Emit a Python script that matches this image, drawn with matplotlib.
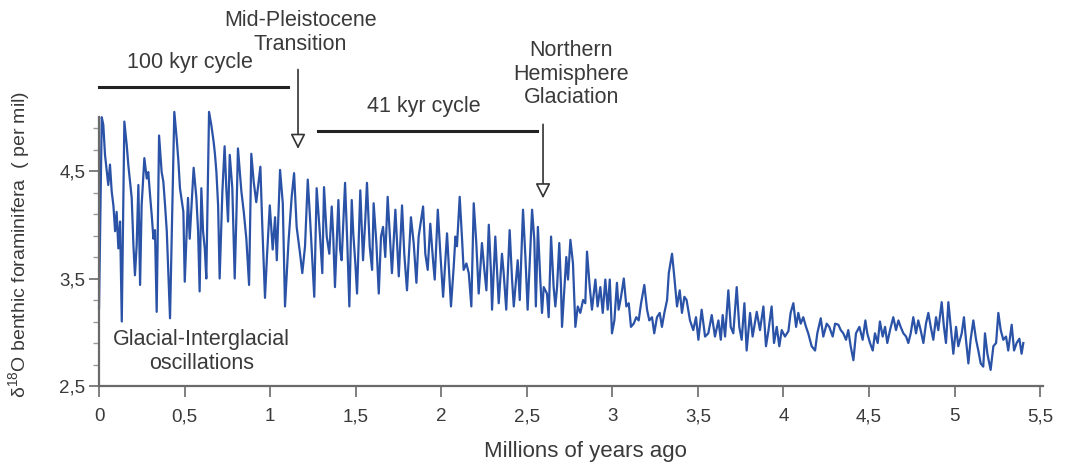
import matplotlib
matplotlib.use("Agg")
import matplotlib.pyplot as plt
from matplotlib.ticker import FixedLocator

plt.rcParams['font.family'] = ['Liberation Sans', 'DejaVu Sans']
plt.rcParams['mathtext.fontset'] = 'custom'
plt.rcParams['mathtext.rm'] = 'Liberation Sans'

# --- Benthic d18O record (age in Myr, value in per mil) ---
age = [
    0.000, 0.016, 0.025, 0.035, 0.054, 0.064, 0.074, 0.084, 0.094, 0.103,
    0.113, 0.123, 0.133, 0.148, 0.162, 0.171, 0.181, 0.191, 0.201, 0.210,
    0.220, 0.230, 0.240, 0.249, 0.265, 0.279, 0.288, 0.298, 0.308, 0.318,
    0.327, 0.337, 0.351, 0.366, 0.376, 0.386, 0.396, 0.415, 0.440, 0.454,
    0.464, 0.473, 0.493, 0.501, 0.520, 0.530, 0.553, 0.569, 0.579, 0.588,
    0.598, 0.608, 0.618, 0.627, 0.643, 0.656, 0.670, 0.678, 0.686, 0.696,
    0.705, 0.721, 0.734, 0.744, 0.754, 0.764, 0.779, 0.793, 0.803, 0.812,
    0.832, 0.846, 0.861, 0.877, 0.890, 0.904, 0.919, 0.943, 0.954, 0.970,
    0.982, 0.998, 1.015, 1.029, 1.039, 1.058, 1.074, 1.087, 1.107, 1.126,
    1.140, 1.155, 1.175, 1.188, 1.204, 1.220, 1.233, 1.243, 1.258, 1.272,
    1.292, 1.305, 1.315, 1.331, 1.346, 1.360, 1.369, 1.379, 1.399, 1.409,
    1.418, 1.438, 1.451, 1.463, 1.477, 1.486, 1.498, 1.508, 1.527, 1.543,
    1.556, 1.566, 1.582, 1.596, 1.605, 1.621, 1.635, 1.648, 1.660, 1.673,
    1.687, 1.699, 1.712, 1.732, 1.742, 1.752, 1.771, 1.784, 1.800, 1.823,
    1.839, 1.855, 1.868, 1.894, 1.907, 1.921, 1.936, 1.952, 1.962, 1.980,
    1.995, 2.011, 2.034, 2.057, 2.073, 2.083, 2.092, 2.108, 2.122, 2.131,
    2.147, 2.161, 2.176, 2.190, 2.205, 2.219, 2.238, 2.252, 2.264, 2.278,
    2.291, 2.297, 2.316, 2.336, 2.355, 2.365, 2.380, 2.400, 2.414, 2.424,
    2.447, 2.459, 2.478, 2.492, 2.505, 2.531, 2.544, 2.553, 2.565, 2.579,
    2.589, 2.599, 2.618, 2.628, 2.642, 2.657, 2.667, 2.677, 2.690, 2.700,
    2.706, 2.720, 2.731, 2.741, 2.755, 2.770, 2.784, 2.798, 2.813, 2.829,
    2.842, 2.852, 2.868, 2.881, 2.901, 2.914, 2.930, 2.944, 2.959, 2.973,
    2.985, 2.998, 3.012, 3.027, 3.037, 3.051, 3.067, 3.082, 3.096, 3.109,
    3.125, 3.140, 3.154, 3.168, 3.187, 3.203, 3.216, 3.232, 3.245, 3.261,
    3.277, 3.290, 3.304, 3.320, 3.330, 3.349, 3.362, 3.378, 3.394, 3.407,
    3.421, 3.434, 3.454, 3.473, 3.489, 3.503, 3.522, 3.542, 3.561, 3.581,
    3.600, 3.620, 3.634, 3.645, 3.659, 3.678, 3.692, 3.707, 3.727, 3.742,
    3.756, 3.772, 3.785, 3.805, 3.820, 3.844, 3.863, 3.883, 3.898, 3.912,
    3.931, 3.945, 3.961, 3.976, 3.990, 4.009, 4.029, 4.042, 4.058, 4.074,
    4.087, 4.101, 4.116, 4.132, 4.145, 4.165, 4.185, 4.198, 4.218, 4.233,
    4.253, 4.268, 4.288, 4.302, 4.321, 4.335, 4.350, 4.366, 4.379, 4.393,
    4.409, 4.424, 4.444, 4.463, 4.479, 4.490, 4.506, 4.522, 4.535, 4.551,
    4.564, 4.580, 4.594, 4.607, 4.623, 4.642, 4.658, 4.672, 4.685, 4.701,
    4.717, 4.730, 4.744, 4.759, 4.775, 4.788, 4.802, 4.818, 4.833, 4.847,
    4.861, 4.876, 4.892, 4.905, 4.925, 4.938, 4.950, 4.964, 4.978, 4.993,
    5.009, 5.022, 5.042, 5.055, 5.067, 5.081, 5.094, 5.110, 5.126, 5.139,
    5.153, 5.168, 5.178, 5.192, 5.211, 5.227, 5.243, 5.256, 5.270, 5.285,
    5.301, 5.314, 5.334, 5.348, 5.363, 5.379, 5.392, 5.402,
]
d18o = [
    3.22, 5.00, 4.93, 4.65, 4.37, 4.56, 4.31, 4.18, 3.94, 4.12,
    3.78, 4.03, 3.10, 4.96, 4.74, 4.56, 4.40, 4.25, 3.81, 3.53,
    3.81, 4.37, 3.44, 4.18, 4.62, 4.43, 4.49, 4.28, 4.09, 3.87,
    3.95, 3.19, 4.83, 4.49, 4.40, 4.18, 3.94, 3.13, 5.05, 4.80,
    4.59, 4.34, 4.12, 3.47, 4.25, 3.87, 4.53, 4.25, 3.94, 3.38,
    4.34, 3.94, 3.78, 3.50, 5.05, 4.93, 4.77, 4.65, 4.49, 4.18,
    3.50, 4.31, 4.73, 4.34, 4.03, 4.65, 4.34, 3.50, 4.09, 4.71,
    4.31, 4.12, 3.87, 3.44, 4.66, 4.40, 4.21, 4.54, 4.00, 3.32,
    3.72, 4.18, 3.77, 4.07, 3.67, 4.51, 4.20, 3.24, 3.83, 4.26,
    4.48, 3.98, 3.73, 3.55, 3.80, 4.42, 4.07, 3.77, 3.33, 4.34,
    3.89, 3.55, 4.35, 3.89, 3.73, 4.17, 3.89, 3.42, 4.23, 3.77,
    3.67, 4.39, 3.83, 3.24, 4.23, 3.92, 3.64, 3.36, 4.32, 3.67,
    4.04, 4.39, 3.80, 3.58, 4.20, 3.83, 3.36, 3.89, 3.98, 3.70,
    4.26, 3.92, 3.55, 4.14, 3.83, 3.52, 4.18, 3.73, 3.39, 4.07,
    3.83, 3.46, 3.89, 4.17, 3.73, 3.58, 4.01, 3.67, 3.49, 4.14,
    3.73, 3.33, 3.92, 3.24, 3.61, 3.89, 3.80, 4.26, 3.86, 3.58,
    3.64, 3.55, 3.24, 4.20, 3.83, 3.36, 3.83, 3.58, 3.39, 4.00,
    3.55, 3.21, 3.89, 3.27, 3.73, 3.55, 3.21, 3.95, 3.49, 3.24,
    3.67, 3.30, 4.14, 3.70, 3.21, 4.14, 3.86, 3.24, 3.98, 3.49,
    3.18, 3.42, 3.36, 3.14, 3.89, 3.42, 3.24, 3.42, 3.83, 3.42,
    3.05, 3.42, 3.70, 3.49, 3.86, 3.64, 3.05, 3.24, 3.18, 3.30,
    3.27, 3.75, 3.42, 3.21, 3.49, 3.24, 3.42, 3.18, 3.49, 3.21,
    3.49, 2.99, 3.11, 3.46, 3.21, 3.33, 3.50, 3.24, 3.27, 3.05,
    3.08, 3.14, 3.11, 3.27, 3.44, 3.21, 3.11, 3.14, 2.99, 3.14,
    3.18, 3.05, 3.18, 3.30, 3.55, 3.73, 3.52, 3.24, 3.39, 3.18,
    3.33, 3.30, 3.11, 3.02, 3.14, 2.93, 3.21, 2.96, 2.99, 3.16,
    2.96, 3.11, 2.93, 3.16, 2.96, 3.39, 3.05, 2.99, 3.42, 3.05,
    2.93, 3.27, 2.83, 3.18, 2.96, 3.19, 3.02, 3.24, 2.87, 3.01,
    3.24, 2.90, 3.05, 2.87, 3.02, 2.96, 3.01, 3.18, 3.27, 3.05,
    3.18, 3.08, 3.14, 3.05, 2.99, 2.87, 2.83, 2.99, 3.13, 2.96,
    3.08, 3.05, 2.96, 3.08, 3.07, 3.02, 2.99, 2.93, 3.02, 2.87,
    2.74, 2.99, 3.05, 2.93, 3.11, 2.99, 2.90, 2.83, 2.99, 2.90,
    3.10, 2.96, 3.05, 2.90, 3.02, 3.14, 3.02, 3.11, 3.05, 2.99,
    2.96, 2.90, 2.99, 3.14, 2.99, 3.11, 3.02, 2.90, 3.08, 3.18,
    3.05, 2.93, 3.14, 3.02, 3.28, 3.05, 2.90, 3.28, 3.05, 2.80,
    3.05, 2.87, 2.99, 3.14, 2.93, 2.71, 2.93, 3.11, 2.93, 2.83,
    2.71, 2.68, 2.99, 2.80, 2.65, 2.87, 2.90, 3.18, 3.02, 2.93,
    2.96, 2.83, 3.07, 2.83, 2.90, 2.94, 2.80, 2.90,
]

x_ticks = [0, 0.5, 1, 1.5, 2, 2.5, 3, 3.5, 4, 4.5, 5, 5.5]
x_labels = ["0", "0,5", "1", "1,5", "2", "2,5", "3", "3,5", "4", "4,5", "5", "5,5"]
y_ticks = [2.5, 3.5, 4.5]
y_labels = ["2,5", "3,5", "4,5"]
y_minor = [2.7, 2.9, 3.1, 3.3, 3.7, 3.9, 4.1, 4.3, 4.7, 4.9]

txt = "#3a3a3a"
axc = "#6a6a6a"
fs = 15.5

fig = plt.figure(figsize=(10.74, 4.62), dpi=100)
ax = fig.add_axes([0.0922, 0.1645, 0.8794, 0.5817])

ax.plot(age, d18o, color="#2a52a6", lw=1.6, clip_on=False)

ax.set_xlim(0, 5.52)
ax.set_ylim(2.5, 5.0)
ax.set_xticks(x_ticks)
ax.set_xticklabels(x_labels)
ax.set_yticks(y_ticks)
ax.set_yticklabels(y_labels)
ax.yaxis.set_minor_locator(FixedLocator(y_minor))

for s in ["top", "right"]:
    ax.spines[s].set_visible(False)
for s in ["left", "bottom"]:
    ax.spines[s].set_color(axc)
    ax.spines[s].set_linewidth(1.6)

ax.tick_params(axis="x", length=8, width=1.2, color=axc, pad=8,
               labelsize=13.5, labelcolor=txt)
ax.tick_params(axis="y", which="major", length=7, width=1.2, color=axc,
               pad=3, labelsize=13.5, labelcolor=txt)
ax.tick_params(axis="y", which="minor", length=4, width=1.0, color="#9a9a9a")

# axis titles
fig.text(585 / 1074, 0.022, "Millions of years ago", ha="center",
         va="center", fontsize=16, color=txt)
fig.text(0.018, 0.47, r"δ$^{\mathregular{18}}$O benthic foraminifera  ( per mil)",
         rotation=90, ha="center", va="center", fontsize=14, color=txt)

# --- Annotations ---
ax.plot([0, 1.105], [5.28, 5.28], color="#222222", lw=2.2, clip_on=False)
ax.text(0.53, 5.51, "100 kyr cycle", ha="center", va="center",
        fontsize=fs, color=txt)

ax.plot([1.28, 2.56], [4.87, 4.87], color="#222222", lw=2.2, clip_on=False)
ax.text(1.90, 5.10, "41 kyr cycle", ha="center", va="center",
        fontsize=fs, color=txt)

ax.text(1.175, 5.79, "Mid-Pleistocene\nTransition", ha="center", va="center",
        fontsize=fs, color=txt, linespacing=1.15)
ax.annotate("", xy=(1.163, 4.68), xytext=(1.163, 5.47),
            arrowprops=dict(arrowstyle="-|>,head_length=0.9,head_width=0.45",
                            fc="white", ec="#333333", lw=1.2),
            annotation_clip=False)

ax.text(2.76, 5.40, "Northern\nHemisphere\nGlaciation", ha="center",
        va="center", fontsize=fs, color=txt, linespacing=1.15)
ax.annotate("", xy=(2.595, 4.22), xytext=(2.595, 4.96),
            arrowprops=dict(arrowstyle="-|>,head_length=0.9,head_width=0.45",
                            fc="white", ec="#333333", lw=1.2),
            annotation_clip=False)

ax.text(0.60, 2.82, "Glacial-Interglacial\noscillations", ha="center",
        va="center", fontsize=fs, color=txt, linespacing=1.15)

fig.savefig("out.png", dpi=100)
